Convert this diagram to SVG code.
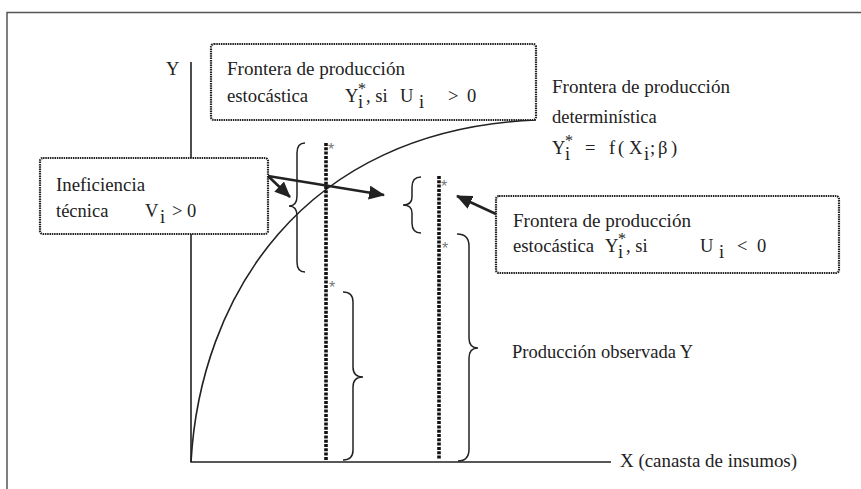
<svg xmlns="http://www.w3.org/2000/svg" width="861" height="489" viewBox="0 0 861 489">
<defs>
<style>
text{font-family:"Liberation Serif","Times New Roman",serif;font-size:18.5px;fill:#222}
.sup{font-size:16px}
.star{font-family:"Liberation Sans",Arial,sans-serif;font-size:16px;fill:#777}
.ax{stroke:#222;stroke-width:1.6;fill:none}
.br{stroke:#222;stroke-width:1.5;fill:none}
.dot{stroke:#111;stroke-width:3.6;stroke-dasharray:3 1.3;fill:none}
.box{fill:#fff;stroke:#222;stroke-width:2.2;stroke-dasharray:1.5 0.8}
.arr{stroke:#222;stroke-width:2.6;fill:none;marker-end:url(#ah)}
</style>
<marker id="ah" markerUnits="userSpaceOnUse" markerWidth="16" markerHeight="14" refX="15" refY="7" orient="auto">
<path d="M0,0 L16,7 L0,14 z" fill="#222"/>
</marker>
</defs>
<rect width="861" height="489" fill="#fff"/>
<path d="M7,489 V12.5 H861" fill="none" stroke="#555" stroke-width="1.5"/>
<g id="axes">
<path class="ax" d="M191,62 V462 H611"/>
<text x="166" y="75">Y</text>
<text x="620" y="467" textLength="177" lengthAdjust="spacingAndGlyphs">X (canasta de insumos)</text>
</g>
<g id="frontier-curve">
<path class="ax" d="M191,462 C200,300 300,130 536,120"/>
</g>
<g id="observations">
<line class="dot" x1="326" y1="143" x2="326" y2="460"/>
<line class="dot" x1="439" y1="176" x2="439" y2="459"/>
<text class="star" x="328" y="155">*</text>
<text class="star" x="329" y="293">*</text>
<text class="star" x="441" y="192">*</text>
<text class="star" x="442" y="254">*</text>
</g>
<g id="braces">
<path class="br" d="M305,143 Q297,143 297,153 L297,196 Q297,206 289,206 Q297,206 297,216 L297,262 Q297,272 305,272"/>
<path class="br" d="M421,177 Q412,177 412,187 L412,197 Q412,205 403,205 Q412,205 412,213 L412,223 Q412,233 421,233"/>
<path class="br" d="M343,292 Q353,292 353,302 L353,367 Q353,377 363,377 Q353,377 353,387 L353,450 Q353,460 343,460"/>
<path class="br" d="M457,234 Q469,234 469,246 L469,338 Q469,348 478,348 Q469,348 469,358 L469,449 Q469,461 458,461"/>
</g>
<g id="box-stochastic-top">
<rect class="box" x="211" y="44" width="325" height="76" rx="3"/>
<text x="227" y="75" textLength="178" lengthAdjust="spacingAndGlyphs">Frontera de producción</text>
<text x="227" y="102" textLength="81" lengthAdjust="spacingAndGlyphs">estocástica</text>
<text x="345" y="102">Y</text>
<text class="sup" x="358" y="94">*</text>
<text x="358" y="108">i</text>
<text x="366" y="102">, si</text>
<text x="400" y="102">U</text>
<text x="419" y="108">i</text>
<text x="448" y="102">&gt;</text>
<text x="467" y="102">0</text>
</g>
<g id="box-inefficiency">
<rect class="box" x="40" y="158" width="228" height="76" rx="3"/>
<text x="56" y="191" textLength="89" lengthAdjust="spacingAndGlyphs">Ineficiencia</text>
<text x="56" y="217">técnica</text>
<text x="145" y="217">V</text>
<text x="160" y="223">i</text>
<text x="172" y="217">&gt;</text>
<text x="187" y="217">0</text>
</g>
<g id="box-stochastic-bottom">
<rect class="box" x="496" y="196" width="343" height="77" rx="3"/>
<text x="513" y="227" textLength="178" lengthAdjust="spacingAndGlyphs">Frontera de producción</text>
<text x="513" y="252" textLength="81" lengthAdjust="spacingAndGlyphs">estocástica</text>
<text x="605" y="252">Y</text>
<text class="sup" x="618" y="244">*</text>
<text x="618" y="258">i</text>
<text x="626" y="252">,  si</text>
<text x="700" y="252">U</text>
<text x="719" y="258">i</text>
<text x="737" y="252">&lt;</text>
<text x="757" y="252">0</text>
</g>
<g id="label-deterministic">
<text x="552" y="93" textLength="178" lengthAdjust="spacingAndGlyphs">Frontera de producción</text>
<text x="552" y="123">determinística</text>
<text x="552" y="154">Y</text>
<text class="sup" x="565" y="146">*</text>
<text x="565" y="160">i</text>
<text x="585" y="154">=</text>
<text x="609" y="154">f</text>
<text x="618" y="154">(</text>
<text x="629" y="154">X</text>
<text x="644" y="160">i</text>
<text x="650" y="154">;</text>
<text x="658" y="154">β</text>
<text x="671" y="154">)</text>
</g>
<g id="label-observed">
<text x="512" y="358">Producción observada Y</text>
</g>
<g id="connectors">
<line class="arr" x1="268" y1="176" x2="290" y2="197"/>
<line class="arr" x1="268" y1="176" x2="384" y2="195"/>
<line class="arr" x1="496" y1="214" x2="457" y2="196"/>
</g>
</svg>
